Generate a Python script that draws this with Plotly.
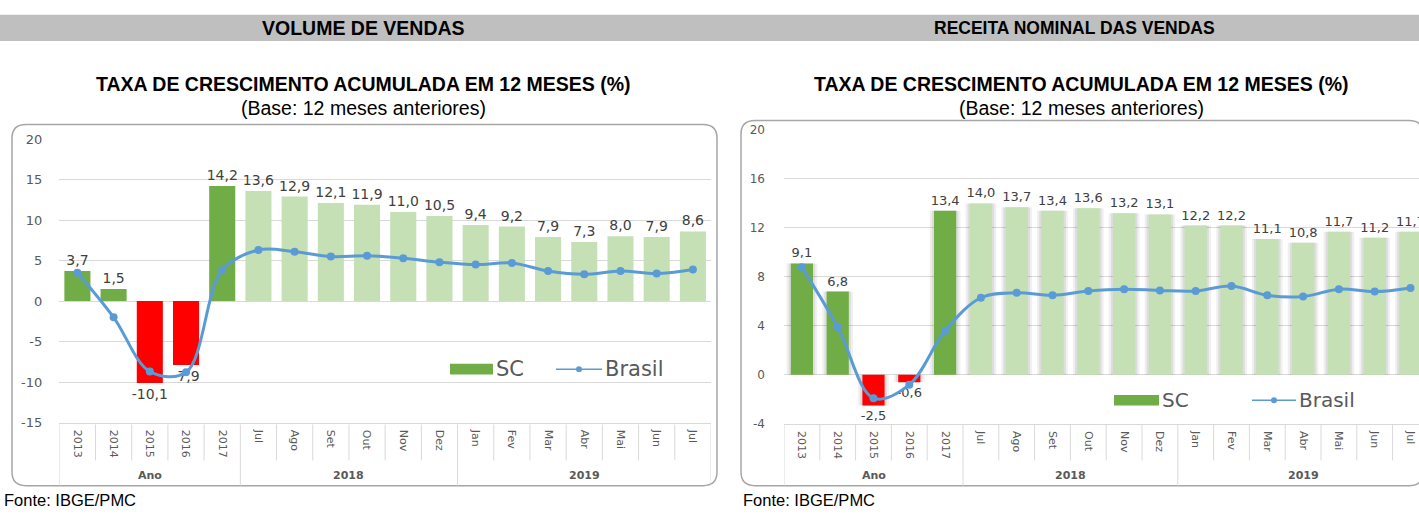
import plotly.graph_objects as go

# ---------------- data ----------------
categories = ["2013", "2014", "2015", "2016", "2017",
              "Jul", "Ago", "Set", "Out", "Nov", "Dez",
              "Jan", "Fev", "Mar", "Abr", "Mai", "Jun", "Jul"]
groups = ["Ano"] * 5 + ["2018"] * 6 + ["2019"] * 7

vol_sc = [3.7, 1.5, -10.1, -7.9, 14.2, 13.6, 12.9, 12.1, 11.9, 11.0, 10.5,
          9.4, 9.2, 7.9, 7.3, 8.0, 7.9, 8.6]
vol_br = [3.5, -2.0, -8.7, -8.8, 3.8, 6.3, 6.1, 5.5, 5.6, 5.3, 4.8,
          4.5, 4.7, 3.7, 3.3, 3.7, 3.4, 3.9]

rec_sc = [9.1, 6.8, -2.5, -0.6, 13.4, 14.0, 13.7, 13.4, 13.6, 13.2, 13.1,
          12.2, 12.2, 11.1, 10.8, 11.7, 11.2, 11.7]
rec_br = [8.8, 3.9, -1.9, -0.8, 3.6, 6.3, 6.7, 6.5, 6.85, 7.0, 6.9,
          6.85, 7.25, 6.5, 6.4, 7.0, 6.8, 7.1]

vol_ticks = [-15, -10, -5, 0, 5, 10, 15, 20]
rec_ticks = [-4, 0, 4, 8, 12, 16, 20]

# ---------------- helpers ----------------
W, H = 1419, 517


def X(px):
    return px / W


def Y(py):
    return 1 - py / H


def fmt(v):
    return f"{v:.1f}".replace(".", ",")


DARK = "#70AD47"
LIGHT = "#C5E0B4"
RED = "#FF0000"
BLUE = "#5B9BD5"
GRID = "#D9D9D9"
TXT = "#595959"


def bar_colors(vals):
    out = []
    for v, g in zip(vals, groups):
        if v < 0:
            out.append(RED)
        elif g == "Ano":
            out.append(DARK)
        else:
            out.append(LIGHT)
    return out


idx = list(range(len(categories)))

fig = go.Figure()

# ---------- left chart ----------
fig.add_trace(go.Bar(
    x=idx, y=vol_sc, width=0.72, marker=dict(color=bar_colors(vol_sc), line=dict(width=0)),
    text=[fmt(v) for v in vol_sc], textposition="outside", constraintext="none",
    textangle=0, cliponaxis=False,
    textfont=dict(family="DejaVu Sans", size=14, color="#404040"),
    xaxis="x", yaxis="y", showlegend=False, name="SC"))
fig.add_trace(go.Scatter(
    x=idx, y=vol_br, mode="lines+markers",
    line=dict(color=BLUE, width=3, shape="spline", smoothing=1.0),
    marker=dict(color=BLUE, size=8), xaxis="x", yaxis="y",
    showlegend=False, name="Brasil", cliponaxis=False))

# ---------- right chart (with bar shadows) ----------
for w, a in [(0.86, 0.06), (0.74, 0.08)]:
    fig.add_trace(go.Bar(
        x=idx, y=rec_sc, width=w, marker=dict(color=f"rgba(0,0,0,{a})", line=dict(width=0)),
        xaxis="x2", yaxis="y2", showlegend=False, hoverinfo="skip"))
fig.add_trace(go.Bar(
    x=idx, y=rec_sc, width=0.62, marker=dict(color=bar_colors(rec_sc), line=dict(width=0)),
    text=[fmt(v) for v in rec_sc], textposition="outside", constraintext="none",
    textangle=0, cliponaxis=False,
    textfont=dict(family="DejaVu Sans", size=13, color="#404040"),
    xaxis="x2", yaxis="y2", showlegend=False, name="SC"))
fig.add_trace(go.Scatter(
    x=idx, y=rec_br, mode="lines+markers",
    line=dict(color=BLUE, width=3, shape="spline", smoothing=1.0),
    marker=dict(color=BLUE, size=8), xaxis="x2", yaxis="y2",
    showlegend=False, name="Brasil"))

# ---------- axes ----------
common_x = dict(
    tickmode="array", tickvals=idx, ticktext=categories, tickangle=90,
    tickfont=dict(family="DejaVu Sans", size=11, color=TXT),
    showgrid=False, zeroline=False, showline=True, linecolor=GRID, linewidth=1,
    ticks="", ticklabelstandoff=4, fixedrange=True)

L_x0, L_x1 = 59.3, 711.0
R_x0 = 784.0
R_step = 35.8

fig.update_layout(
    width=W, height=H, margin=dict(l=0, r=0, t=0, b=0),
    paper_bgcolor="white", plot_bgcolor="rgba(0,0,0,0)",
    barmode="overlay", bargap=0.3,
    xaxis=dict(domain=[X(L_x0), X(L_x1)], range=[-0.5, len(idx) - 0.5],
               anchor="y", **common_x),
    yaxis=dict(domain=[Y(428), Y(136)], range=[-15, 20], anchor="x",
               tickmode="array", tickvals=vol_ticks, ticktext=[str(t) for t in vol_ticks],
               tickfont=dict(family="DejaVu Sans", size=13, color=TXT),
               showgrid=True, gridcolor=GRID, gridwidth=1, zeroline=False,
               showline=False, ticks="", ticklabelstandoff=16, fixedrange=True),
    xaxis2=dict(domain=[X(R_x0), 1.0],
                range=[-0.5, -0.5 + (W - R_x0) / R_step],
                anchor="y2", **common_x),
    yaxis2=dict(domain=[Y(429.3), Y(126.7)], range=[-4, 20], anchor="x2",
                tickmode="array", tickvals=rec_ticks, ticktext=[str(t) for t in rec_ticks],
                tickfont=dict(family="DejaVu Sans", size=12, color=TXT),
                showgrid=True, gridcolor=GRID, gridwidth=1, zeroline=False,
                showline=False, ticks="", ticklabelstandoff=18, fixedrange=True),
)

shapes = []
annotations = []


def rrect(x0, y0, x1, y1, r):
    pts = [("M", [(x0 + r, y0)]), ("L", [(x1 - r, y0)]), ("Q", [(x1, y0), (x1, y0 + r)]),
           ("L", [(x1, y1 - r)]), ("Q", [(x1, y1), (x1 - r, y1)]),
           ("L", [(x0 + r, y1)]), ("Q", [(x0, y1), (x0, y1 - r)]),
           ("L", [(x0, y0 + r)]), ("Q", [(x0, y0), (x0 + r, y0)])]
    s = ""
    for cmd, ps in pts:
        s += cmd + " " + " ".join(f"{X(a):.5f},{Y(b):.5f}" for a, b in ps) + " "
    return s + "Z"


# header band
shapes.append(dict(type="rect", xref="paper", yref="paper", x0=0, x1=1,
                   y0=Y(35), y1=Y(8), fillcolor="#BFBFBF", line=dict(width=0), layer="below"))
# chart frames
shapes.append(dict(type="path", xref="paper", yref="paper", path=rrect(12, 121, 717, 493, 14),
                   line=dict(color="#A6A6A6", width=1.5), layer="below"))
shapes.append(dict(type="path", xref="paper", yref="paper", path=rrect(741, 117, 1423, 493, 14),
                   line=dict(color="#A6A6A6", width=1.5), layer="below"))

# category dividers (multi-level axis)
for xr in ["x", "x2"]:
    for i in range(len(idx) + 1):
        b = i - 0.5
        is_group = (i == 0 or i == len(idx) or groups[i] != groups[i - 1])
        shapes.append(dict(type="line", xref=xr, yref="paper", x0=b, x1=b,
                           y0=Y(430), y1=Y(493 if is_group else 467),
                           line=dict(color=GRID, width=1)))
    seen = []
    for g in groups:
        if g not in seen:
            seen.append(g)
    for g in seen:
        members = [i for i, gg in enumerate(groups) if gg == g]
        annotations.append(dict(xref=xr, yref="paper", x=sum(members) / len(members), y=Y(483),
                                text=f"<b>{g}</b>", showarrow=False, xanchor="center",
                                yanchor="middle",
                                font=dict(family="DejaVu Sans", size=11, color=TXT)))


# manual legends
def legend(rx0, rx1, ry, sc_x, lx0, lx1, br_x, size):
    shapes.append(dict(type="rect", xref="paper", yref="paper", x0=X(rx0), x1=X(rx1),
                       y0=Y(ry + 5.5), y1=Y(ry - 5.5), fillcolor=DARK, line=dict(width=0)))
    annotations.append(dict(xref="paper", yref="paper", x=X(sc_x), y=Y(ry), text="SC",
                            showarrow=False, xanchor="left", yanchor="middle",
                            font=dict(family="DejaVu Sans", size=size, color=TXT)))
    shapes.append(dict(type="line", xref="paper", yref="paper", x0=X(lx0), x1=X(lx1),
                       y0=Y(ry), y1=Y(ry), line=dict(color=BLUE, width=1.5)))
    mx = (lx0 + lx1) / 2
    shapes.append(dict(type="circle", xref="paper", yref="paper", x0=X(mx - 3), x1=X(mx + 3),
                       y0=Y(ry + 3), y1=Y(ry - 3), fillcolor=BLUE, line=dict(width=0)))
    annotations.append(dict(xref="paper", yref="paper", x=X(br_x), y=Y(ry), text="Brasil",
                            showarrow=False, xanchor="left", yanchor="middle",
                            font=dict(family="DejaVu Sans", size=size, color=TXT)))


legend(450, 493, 373, 494, 556, 602, 603, 21)
legend(1114, 1159, 405, 1160, 1252, 1296, 1297, 20)

# texts
for cx, head, sz in [(363, "VOLUME DE VENDAS", 19.5), (1074, "RECEITA NOMINAL DAS VENDAS", 17.5)]:
    annotations.append(dict(xref="paper", yref="paper", x=X(cx), y=Y(22), text=f"<b>{head}</b>",
                            showarrow=False, xanchor="center", yanchor="middle",
                            font=dict(family="Liberation Sans", size=sz, color="black")))
for cx in [363, 1081]:
    annotations.append(dict(xref="paper", yref="paper", x=X(cx), y=Y(79),
                            text="<b>TAXA DE CRESCIMENTO ACUMULADA EM 12 MESES (%)</b>",
                            showarrow=False, xanchor="center", yanchor="middle",
                            font=dict(family="Liberation Sans", size=19.5, color="black")))
    annotations.append(dict(xref="paper", yref="paper", x=X(cx), y=Y(104),
                            text="(Base: 12 meses anteriores)", showarrow=False,
                            xanchor="center", yanchor="middle",
                            font=dict(family="Liberation Sans", size=19.5, color="black")))
for lx in [2, 741]:
    annotations.append(dict(xref="paper", yref="paper", x=X(lx), y=Y(508),
                            text="Fonte: IBGE/PMC", showarrow=False, xanchor="left",
                            yanchor="middle",
                            font=dict(family="Liberation Sans", size=16.5, color="black")))

fig.update_layout(shapes=shapes, annotations=annotations)

fig.write_html(
    "out.html", config={"displayModeBar": False},
    post_script=(
        "var h=document.documentElement,b=document.body;"
        "h.style.margin='0';h.style.padding='0';h.style.height='517px';h.style.overflow='hidden';"
        "b.style.margin='0';b.style.padding='0';b.style.height='517px';b.style.overflow='hidden';"
        "b.style.lineHeight='0';"
    ))
